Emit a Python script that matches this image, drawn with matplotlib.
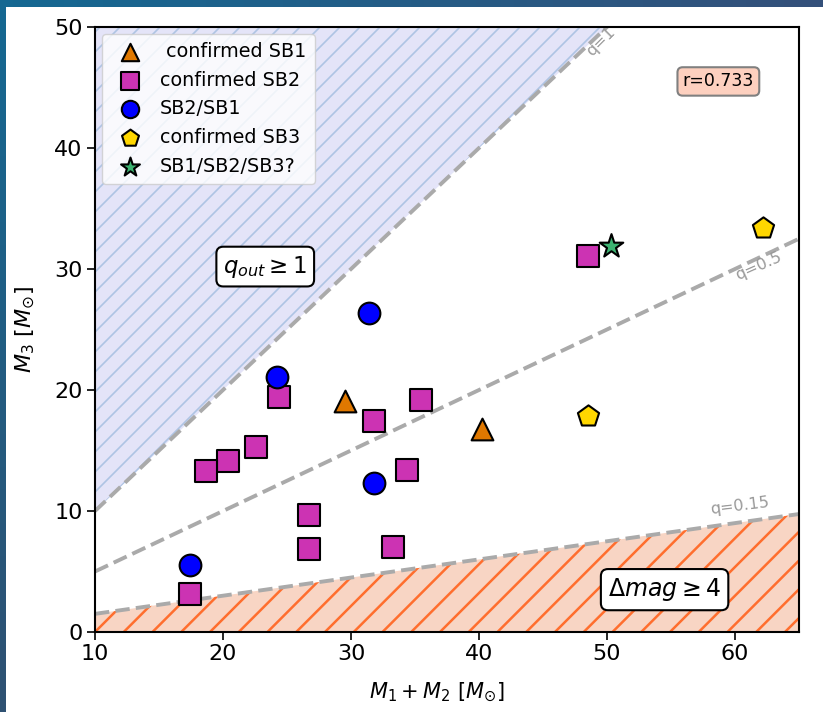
import numpy as np
import matplotlib
matplotlib.use("Agg")
import matplotlib.pyplot as plt
from matplotlib.patches import Rectangle
from matplotlib.collections import LineCollection
from matplotlib.colors import to_rgb

# ---- data -----------------------------------------------------------------
sb1_x = [29.5, 40.2]
sb1_y = [19.1, 16.75]

sb2_x = [48.5, 24.4, 35.5, 31.8, 22.6, 20.4, 18.7, 34.4, 26.7, 26.7, 33.3, 17.4]
sb2_y = [31.1, 19.4, 19.2, 17.4, 15.3, 14.1, 13.3, 13.4, 9.7, 6.9, 7.0, 3.1]

sb21_x = [24.2, 31.4, 31.8, 17.4]
sb21_y = [21.05, 26.4, 12.3, 5.5]

sb3_x = [48.5, 62.2]
sb3_y = [17.85, 33.4]

unk_x = [50.3]
unk_y = [31.9]

q_values = [1.0, 0.5, 0.15]
q_labels = ["q=1", "q=0.5", "q=0.15"]
r_text = "r=0.733"

x_ticks = [10, 20, 30, 40, 50, 60]
y_ticks = [0, 10, 20, 30, 40, 50]

# ---- figure ---------------------------------------------------------------
W_PX, H_PX = 823, 712
fig = plt.figure(figsize=(W_PX / 100, H_PX / 100), dpi=100)

# dark gradient backdrop with a white panel
bg = fig.add_axes([0, 0, 1, 1], zorder=-10)
tl, tr = np.array(to_rgb("#156892")), np.array(to_rgb("#34507a"))
bl, br = np.array(to_rgb("#2e5172")), np.array(to_rgb("#30507a"))
u = np.linspace(0, 1, 64)[None, :, None]
v = np.linspace(0, 1, 64)[:, None, None]
grad = (tl * (1 - u) * (1 - v) + tr * u * (1 - v) + bl * (1 - u) * v + br * u * v)
bg.imshow(grad, aspect="auto", extent=[0, 1, 0, 1], origin="upper")
bg.set_axis_off()
fig.patches.append(Rectangle((6 / W_PX, 0), 1, (H_PX - 7) / H_PX,
                             transform=fig.transFigure, facecolor="white",
                             edgecolor="none", zorder=-5))

ax = fig.add_axes([95 / W_PX, 1 - 632 / H_PX, 704 / W_PX, 605 / H_PX])
ax.set_xlim(10, 65)
ax.set_ylim(0, 50)

xs = np.array([10.0, 65.0])

# shaded regions
blue_fill = ax.fill_between([10, 50], [10, 50], [50, 50], facecolor="#e4e4f8",
                            edgecolor="none", zorder=1)
orange_fill = ax.fill_between(xs, [0, 0], 0.15 * xs, facecolor="#f8d5c4",
                              edgecolor="none", zorder=1)

# diagonal hatching, clipped to each region
ax_w, ax_h = 704.0, 605.0


def hatch(fill, spacing, color, lw):
    segs = []
    for k in range(-80, 80):
        x0 = k * spacing
        segs.append([(x0 / ax_w, 0.0), ((x0 + ax_h) / ax_w, 1.0)])
    lc = LineCollection(segs, colors=color, linewidths=lw,
                        transform=ax.transAxes, zorder=1.5)
    ax.add_collection(lc)
    lc.set_clip_path(fill.get_paths()[0], ax.transData)


hatch(blue_fill, 20.0, "#aec4e4", 1.2)
hatch(orange_fill, 28.75, "#ff6e2e", 1.8)

# constant mass-ratio lines
for q in q_values:
    ax.plot(xs, q * xs, linestyle="--", color="#aaaaaa", linewidth=2.8, zorder=2)

ax.text(49.5, 48.8, q_labels[0], color="#999999", fontsize=11.5,
        rotation=45, ha="center", va="center", zorder=3)
ax.text(61.8, 30.2, q_labels[1], color="#999999", fontsize=11.5,
        rotation=24, ha="center", va="center", zorder=3)
ax.text(60.4, 10.4, q_labels[2], color="#999999", fontsize=11.5,
        rotation=7, ha="center", va="center", zorder=3)

# systems
ms = 245
ax.scatter(sb1_x, sb1_y, marker="^", s=ms, c="#e07800", edgecolors="black",
           linewidths=1.5, zorder=5, label=" confirmed SB1")
ax.scatter(sb2_x, sb2_y, marker="s", s=ms, c="#cc33b3", edgecolors="black",
           linewidths=1.5, zorder=5, label="confirmed SB2")
ax.scatter(sb21_x, sb21_y, marker="o", s=ms, c="#0000ff", edgecolors="black",
           linewidths=1.5, zorder=5, label="SB2/SB1")
ax.scatter(sb3_x, sb3_y, marker="p", s=ms * 1.05, c="#ffd700", edgecolors="black",
           linewidths=1.5, zorder=5, label="confirmed SB3")
ax.scatter(unk_x, unk_y, marker="*", s=ms * 1.3, c="#3cb371", edgecolors="black",
           linewidths=1.5, zorder=5, label="SB1/SB2/SB3?")

# region annotations
ax.text(23.3, 30.2, r"$q_{out} \geq 1$", fontsize=16.5, ha="center", va="center",
        zorder=6, bbox=dict(boxstyle="round,pad=0.3", facecolor="white",
                            edgecolor="black", linewidth=1.5))
ax.text(54.5, 3.5, r"$\Delta mag \geq 4$", fontsize=17, ha="center", va="center",
        zorder=6, bbox=dict(boxstyle="round,pad=0.3", facecolor="white",
                            edgecolor="black", linewidth=1.5))
ax.text(58.7, 45.5, r_text, fontsize=12.5, ha="center", va="center", zorder=6,
        bbox=dict(boxstyle="round,pad=0.3", facecolor="#fdd0bf",
                  edgecolor="#808080", linewidth=1.5))

leg = ax.legend(loc="upper left", fontsize=13.8, markerscale=0.8,
                framealpha=0.8, edgecolor="#cccccc", labelspacing=0.5,
                borderpad=0.45, handletextpad=0.6, borderaxespad=0.35)
leg.set_zorder(7)

ax.set_xticks(x_ticks)
ax.set_yticks(y_ticks)
ax.tick_params(labelsize=16, length=5.5, width=1.2)
for sp in ax.spines.values():
    sp.set_linewidth(1.5)
    sp.set_zorder(8)

ax.set_xlabel(r"$M_1 + M_2\ [M_{\odot}]$", fontsize=15)
ax.set_ylabel(r"$M_3\ [M_{\odot}]$", fontsize=16, labelpad=12)
ax.xaxis.set_label_coords(0.485, -0.08)

fig.savefig("out.png", dpi=100)
